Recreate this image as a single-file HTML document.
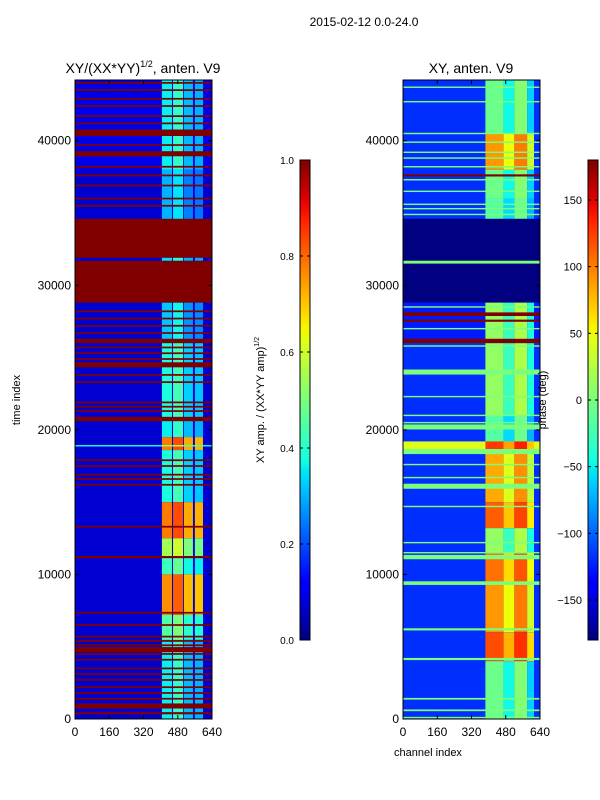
<!DOCTYPE html>
<html><head><meta charset="utf-8">
<style>
html,body{margin:0;padding:0;background:#fff;}
svg{display:block;font-family:"Liberation Sans","DejaVu Sans",sans-serif;}
</style></head>
<body>
<svg id="fig" width="600" height="800" viewBox="0 0 600 800" xmlns="http://www.w3.org/2000/svg">
  <text x="364" y="26" font-size="12" text-anchor="middle">2015-02-12 0.0-24.0</text>
  <text x="143" y="73" font-size="14" text-anchor="middle">XY/(XX*YY)<tspan font-size="9" dy="-6">1/2</tspan><tspan dy="6">, anten. V9</tspan></text>
  <text x="471" y="73" font-size="14" text-anchor="middle">XY, anten. V9</text>
  <text x="20" y="400" font-size="11" text-anchor="middle" transform="rotate(-90 20 400)">time index</text>
  <text x="428" y="756" font-size="11" text-anchor="middle">channel index</text>
  <text x="264" y="400" font-size="11" text-anchor="middle" transform="rotate(-90 264 400)">XY amp. / (XX*YY amp)<tspan font-size="7" dy="-5">1/2</tspan></text>
  <g id="left"></g>
  <g id="right"></g>
  <g id="cbars"></g>
  <text x="546" y="400" font-size="11" text-anchor="middle" transform="rotate(-90 546 400)">phase (deg)</text>
</svg>
<script>
// ---- data ----
const tMax = 44200;
const chMax = 640;
const yTicks = [0, 10000, 20000, 30000, 40000];
const xTicks = [0, 160, 320, 480, 640];
const ampTicks = [0.0, 0.2, 0.4, 0.6, 0.8, 1.0];
const phaseTicks = [-150, -100, -50, 0, 50, 100, 150];

// left panel bands: start, end, background value, hot-channel value
const leftStart = [0, 38000, 26000, 20800, 19500, 18600, 15000, 12500, 11200, 10000, 7200, 5500, 0, 18850, 28800, 31700];
const leftEnd   = [44200, 44200, 28800, 26000, 20800, 19500, 18600, 15000, 12500, 11200, 10000, 7200, 5500, 18950, 34600, 31900];
const leftBg    = [0.07, 0.09, 0.07, 0.07, 0.07, 0.07, 0.07, 0.07, 0.07, 0.07, 0.07, 0.07, 0.07, 0.38, 1, 0.07];
const leftHot   = [0.3, 0.36, 0.32, 0.38, 0.36, 0.78, 0.38, 0.78, 0.55, 0.42, 0.76, 0.45, 0.36, 0.5, 1, 0.35];
const leftRedLines = [44000, 43500, 42900, 42400, 41700, 41200, 40550, 39700, 39100, 38200, 37600, 36900, 36000, 35500,
  28200, 27700, 27200, 26700, 26150, 25700, 25300, 24900, 24500, 23800, 23300, 21900, 21600, 21300, 20750,
  17900, 17500, 16900, 16600, 16200, 13300, 11200, 7350, 6500, 5700, 5400, 5100, 4800, 4500, 4100, 3500,
  3100, 2700, 2200, 1800, 1400, 900, 400];
const leftRedWidth = [120, 120, 120, 120, 120, 120, 450, 120, 350, 120, 120, 120, 120, 120,
  120, 120, 120, 120, 300, 120, 120, 120, 350, 120, 120, 120, 120, 120, 300,
  120, 120, 120, 120, 120, 120, 150, 120, 120, 120, 120, 120, 350, 120, 120, 120,
  120, 120, 120, 120, 120, 350, 150];
const leftColStart = [406, 458, 509, 560];
const leftColEnd   = [453, 505, 551, 598];
const leftColOffset = [0.0, 0.05, -0.05, -0.06];

// right panel bands (phase normalised 0..1 of -180..180)
const rightStart = [0, 36000, 38000, 28800, 26000, 21000, 18600, 15000, 13200, 11500, 9500, 6000, 4000, 0];
const rightEnd   = [44200, 44200, 40500, 34600, 28800, 26000, 19200, 18500, 15000, 13200, 11500, 9500, 6000, 4000];
const rightBg    = [0.17, 0.17, 0.17, 0.0, 0.15, 0.17, 0.62, 0.17, 0.17, 0.17, 0.17, 0.17, 0.17, 0.17];
const rightHot   = [0.42, 0.45, 0.72, 0.0, 0.5, 0.5, 0.82, 0.7, 0.78, 0.5, 0.76, 0.72, 0.8, 0.45];
const rightGreenLines = [43700, 42700, 40500, 39900, 39200, 38800, 38200, 37300, 36500, 35600, 35300, 34900,
  31600, 28500, 27000, 25800, 24000, 22300, 21000, 20500, 20200, 18500, 17600, 16700, 16100, 14700,
  12200, 11500, 11200, 9400, 6200, 4150, 1400, 600, 100];
const rightGreenWidth = [100, 100, 100, 100, 100, 100, 100, 100, 100, 100, 100, 100,
  200, 100, 100, 100, 350, 100, 100, 100, 350, 350, 100, 100, 350, 100,
  100, 100, 300, 250, 150, 150, 120, 120, 100];
const rightRedLines = [28000, 27550, 26150, 37600];
const rightRedWidth = [250, 150, 300, 150];
const rightColStart = [385, 470, 520, 580];
const rightColEnd   = [470, 520, 580, 612];
const rightColOffset = [0.03, -0.08, 0.06, -0.12];

// ---- helpers ----
function clamp(v){return Math.max(0, Math.min(1, v));}
function interp(pts, x){
  for(let i=1;i<pts.length;i++){ if(x<=pts[i][0]){const a=pts[i-1],b=pts[i];return a[1]+(b[1]-a[1])*(x-a[0])/(b[0]-a[0]);} }
  return pts[pts.length-1][1];
}
function jet(v){
  v=clamp(v);
  const r=interp([[0,0],[0.35,0],[0.66,1],[0.89,1],[1,0.5]],v);
  const g=interp([[0,0],[0.125,0],[0.375,1],[0.64,1],[0.91,0],[1,0]],v);
  const b=interp([[0,0.5],[0.11,1],[0.34,1],[0.65,0],[1,0]],v);
  return `rgb(${Math.round(r*255)},${Math.round(g*255)},${Math.round(b*255)})`;
}
const NS='http://www.w3.org/2000/svg';
function mk(tag, attrs, parent){const e=document.createElementNS(NS,tag);for(const k in attrs)e.setAttribute(k,attrs[k]);parent.appendChild(e);return e;}

function drawPanel(g, x0, x1, y0, y1, starts, ends, bgs, hots, colS, colE, colO, lines, widths, lineVal, lines2, widths2, line2Val){
  const xS = ch => x0 + (ch/chMax)*(x1-x0);
  const yS = t => y1 - (t/tMax)*(y1-y0);
  const band = (s,e,bg,hot)=>{
    const r = mk('rect',{x:x0,y:yS(e),width:x1-x0,height:Math.max(0.8,yS(s)-yS(e)),fill:jet(bg)},g);
    
    
    if(hot===bg) return;
    for(let c=0;c<colS.length;c++){
      const cr = mk('rect',{x:xS(colS[c]),y:yS(e),width:xS(colE[c])-xS(colS[c]),height:Math.max(0.8,yS(s)-yS(e)),fill:jet(clamp(hot+colO[c]))},g);
      
      
    }
  };
  for(let i=0;i<starts.length;i++) band(starts[i],ends[i],bgs[i],hots[i]);
  for(let i=0;i<lines.length;i++) band(lines[i]-widths[i]/2,lines[i]+widths[i]/2,lineVal,lineVal);
  for(let i=0;i<lines2.length;i++) band(lines2[i]-widths2[i]/2,lines2[i]+widths2[i]/2,line2Val,line2Val);
  const fr = mk('rect',{x:x0,y:y0,width:x1-x0,height:y1-y0,fill:'none',stroke:'#000','stroke-width':1},g);
  
  
  yTicks.forEach(t=>{
    const y=yS(t);
    mk('line',{x1:x0,x2:x0+4,y1:y,y2:y,stroke:'#000'},g);
    mk('line',{x1:x1,x2:x1-4,y1:y,y2:y,stroke:'#000'},g);
    const tx = mk('text',{x:x0-4,y:y+4,'font-size':12,'text-anchor':'end'},g);
    tx.textContent=t;
    
    
  });
  xTicks.forEach(c=>{
    const x=xS(c);
    mk('line',{x1:x,x2:x,y1:y1,y2:y1-4,stroke:'#000'},g);
    mk('line',{x1:x,x2:x,y1:y0,y2:y0+4,stroke:'#000'},g);
    const tx = mk('text',{x:x,y:y1+17,'font-size':12,'text-anchor':'middle'},g);
    tx.textContent=c;
    
    
  });
}

drawPanel(document.getElementById('left'),75,212,80,719,leftStart,leftEnd,leftBg,leftHot,leftColStart,leftColEnd,leftColOffset,leftRedLines,leftRedWidth,1,[],[],1);
drawPanel(document.getElementById('right'),403,540,80,719,rightStart,rightEnd,rightBg,rightHot,rightColStart,rightColEnd,rightColOffset,rightGreenLines,rightGreenWidth,0.5,rightRedLines,rightRedWidth,1);

// colorbars
const cb = document.getElementById('cbars');
const defs = mk('defs',{},cb);
const grad = mk('linearGradient',{id:'jetg',x1:0,y1:1,x2:0,y2:0},defs);
for(let i=0;i<=40;i++){mk('stop',{offset:(i/40),'stop-color':jet(i/40)},grad);}
function colorbar(x, y0, y1, ticks, vmin, vmax, isPhase, name){
  const r = mk('rect',{x:x,y:y0,width:10,height:y1-y0,fill:'url(#jetg)',stroke:'#000','stroke-width':1},cb);
  
  
  ticks.forEach(v=>{
    const y = y1 - (v-vmin)/(vmax-vmin)*(y1-y0);
    mk('line',{x1:x,x2:x+3,y1:y,y2:y,stroke:'#000'},cb);
    mk('line',{x1:x+10,x2:x+7,y1:y,y2:y,stroke:'#000'},cb);
    const t = mk('text',{x:x-6,y:y+4,'font-size':isPhase?11:10,'text-anchor':'end'},cb);
    t.textContent = isPhase ? String(v).replace('-','\u2212') : v.toFixed(1);
    
    
  });
}
colorbar(300,160,640,ampTicks,0,1,false,'amp-colorbar');
colorbar(588,160,640,phaseTicks,-180,180,true,'phase-colorbar');
</script>
</body></html>
